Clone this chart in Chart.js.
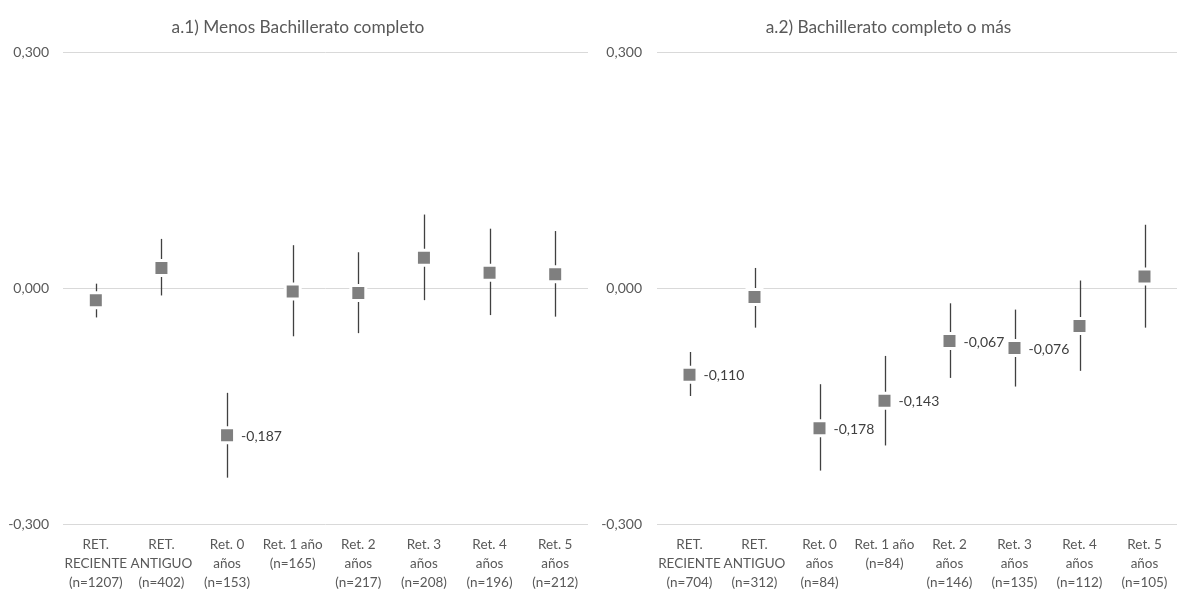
<!DOCTYPE html>
<html>
<head>
<meta charset="utf-8">
<script src="https://cdn.jsdelivr.net/npm/chart.js@4/dist/chart.umd.min.js"></script>
<style>
  body { margin: 0; background: #fff; }
  .panel { position: absolute; top: 0; height: 589px; }
  #left { left: 0; width: 588px; }
  #right { left: 588px; width: 589px; }
</style>
</head>
<body>
<div class="panel" id="left"><canvas id="chartLeft"></canvas></div>
<div class="panel" id="right"><canvas id="chartRight"></canvas></div>
<script>
// data
const labelsLeft = [
  ['RET.', 'RECIENTE', '(n=1207)'], ['RET.', 'ANTIGUO', '(n=402)'], ['Ret. 0', 'años', '(n=153)'],
  ['Ret. 1 año', '(n=165)'], ['Ret. 2', 'años', '(n=217)'], ['Ret. 3', 'años', '(n=208)'],
  ['Ret. 4', 'años', '(n=196)'], ['Ret. 5', 'años', '(n=212)']
];
const labelsRight = [
  ['RET.', 'RECIENTE', '(n=704)'], ['RET.', 'ANTIGUO', '(n=312)'], ['Ret. 0', 'años', '(n=84)'],
  ['Ret. 1 año', '(n=84)'], ['Ret. 2', 'años', '(n=146)'], ['Ret. 3', 'años', '(n=135)'],
  ['Ret. 4', 'años', '(n=112)'], ['Ret. 5', 'años', '(n=105)']
];

const estLeft   = [-0.015, 0.026, -0.187, -0.004, -0.006, 0.039, 0.020, 0.018];
const upperLeft = [0.006, 0.063, -0.133, 0.055, 0.046, 0.094, 0.076, 0.073];
const lowerLeft = [-0.037, -0.009, -0.241, -0.061, -0.057, -0.015, -0.034, -0.036];
const shownLeft = [false, false, true, false, false, false, false, false];

const estRight   = [-0.110, -0.011, -0.178, -0.143, -0.067, -0.076, -0.048, 0.015];
const upperRight = [-0.081, 0.026, -0.122, -0.086, -0.019, -0.027, 0.010, 0.081];
const lowerRight = [-0.137, -0.050, -0.232, -0.200, -0.114, -0.125, -0.105, -0.050];
const shownRight = [true, false, true, true, true, true, false, false];

const yTicks = [-0.3, 0, 0.3];

const fontFamily = 'Lato, "Open Sans", sans-serif';
const fmt = (v) => v.toFixed(3).replace('.', ',');

// vertical lines for intervals + value labels
let errorBars = (upper, lower, est, shown) => ({
  id: 'errorBars',
  beforeDatasetsDraw(chart) {
    const { ctx, scales: { x, y } } = chart;
    ctx.save();
    ctx.strokeStyle = '#404040';
    ctx.lineWidth = 1.3;
    upper.forEach((u, i) => {
      const px = Math.round(x.getPixelForValue(i)) + 0.5;
      ctx.beginPath();
      ctx.moveTo(px, y.getPixelForValue(u));
      ctx.lineTo(px, y.getPixelForValue(lower[i]));
      ctx.stroke();
    });
    ctx.restore();
  },
  afterDatasetsDraw(chart) {
    const { ctx, scales: { x, y } } = chart;
    ctx.save();
    ctx.fillStyle = '#404040';
    ctx.font = '14px ' + fontFamily;
    ctx.textBaseline = 'middle';
    est.forEach((v, i) => {
      if (!shown[i]) return;
      ctx.fillText(fmt(v), x.getPixelForValue(i) + 14, y.getPixelForValue(v) + 1);
    });
    ctx.restore();
  }
});

function makeChart(id, title, labels, est, upper, lower, shown, padLeft, axisWidth, tickPad) {
  return new Chart(document.getElementById(id), {
    type: 'line',
    data: {
      labels: labels,
      datasets: [{
        data: est,
        showLine: false,
        pointStyle: 'rect',
        pointRadius: 10.6,
        pointHoverRadius: 10.6,
        pointBackgroundColor: '#7f7f7f',
        pointBorderColor: '#ffffff',
        pointBorderWidth: 3
      }]
    },
    options: {
      responsive: true,
      maintainAspectRatio: false,
      animation: false,
      layout: { autoPadding: false, padding: { left: padLeft, right: 0, top: 0, bottom: 0 } },
      plugins: {
        legend: { display: false },
        tooltip: { enabled: false },
        title: {
          display: true,
          text: title,
          color: '#595959',
          font: { family: fontFamily, size: 17.3, weight: 'normal', lineHeight: 1.2 },
          padding: { top: 17, bottom: 15 }
        }
      },
      scales: {
        x: {
          offset: true,
          grid: { display: false, drawTicks: true, tickLength: 11.5 },
          border: { display: false },
          ticks: {
            color: '#595959',
            autoSkip: false,
            maxRotation: 0,
            padding: 0,
            font: { family: fontFamily, size: 13.5, lineHeight: 1.4 }
          },
          afterFit: (s) => { s.height = 65; }
        },
        y: {
          min: -0.3,
          max: 0.3,
          afterBuildTicks: (s) => { s.ticks = yTicks.map(v => ({ value: v })); },
          grid: { color: '#d9d9d9', lineWidth: 1, drawTicks: false },
          border: { display: false },
          ticks: {
            color: '#595959',
            padding: tickPad,
            font: { family: fontFamily, size: 14 },
            callback: (v) => fmt(v)
          },
          afterFit: (s) => { s.width = axisWidth; }
        }
      }
    },
    plugins: [errorBars(upper, lower, est, shown)]
  });
}

makeChart('chartLeft', 'a.1) Menos Bachillerato completo', labelsLeft, estLeft, upperLeft, lowerLeft, shownLeft, 8, 55, 14);
makeChart('chartRight', 'a.2) Bachillerato completo o más', labelsRight, estRight, upperRight, lowerRight, shownRight, 12, 57, 15);
</script>
</body>
</html>
